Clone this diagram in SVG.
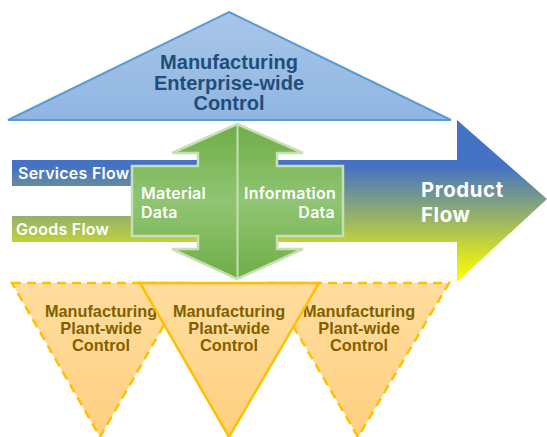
<svg xmlns="http://www.w3.org/2000/svg" width="547" height="437" viewBox="0 0 547 437">
<style>
text{font-family:"Liberation Sans",Arial,sans-serif;font-weight:700}
.top{font-size:20px;fill:#1f4e79;text-anchor:middle}
.plant{font-size:16.300px;fill:#7f6000;text-anchor:middle}
.w{fill:#fff;font-family:Inter,"Liberation Sans",sans-serif;font-weight:600}
.flow{font-size:16px;letter-spacing:.25px}
.data{font-size:16px;letter-spacing:.25px}
.prod{font-size:20.400px;font-weight:700;letter-spacing:.6px}
.tri{fill:url(#orange);stroke:#ffc000;stroke-width:2.5;stroke-linejoin:miter}
.dash{stroke-dasharray:9 6}
</style>
<defs>
<linearGradient id="blue" x1="0" y1="0" x2="0" y2="1"><stop offset="0" stop-color="#a9c6e8"/><stop offset="1" stop-color="#8fb6e2"/></linearGradient>
<linearGradient id="orange" x1="0" y1="0" x2="0" y2="1"><stop offset="0" stop-color="#ffdd9f"/><stop offset="1" stop-color="#ffd07f"/></linearGradient>
<linearGradient id="prod" gradientUnits="userSpaceOnUse" x1="0" y1="120" x2="0" y2="280"><stop offset="0" stop-color="#4472c4"/><stop offset="0.29" stop-color="#4472c4"/><stop offset="0.75" stop-color="#bccf40"/><stop offset="1" stop-color="#ffff00"/></linearGradient>
<linearGradient id="green" gradientUnits="userSpaceOnUse" x1="0" y1="124" x2="0" y2="279"><stop offset="0" stop-color="#70ad47"/><stop offset="0.5" stop-color="#90c573"/><stop offset="1" stop-color="#70ad47"/></linearGradient>
</defs>
<g id="enterprise">
<polygon points="229,12 451,120 8,120" fill="url(#blue)" stroke="#5b9bd5" stroke-width="2"/>
<text class="top" x="229" y="69">Manufacturing</text>
<text class="top" x="229" y="90">Enterprise-wide</text>
<text class="top" x="229" y="110">Control</text>
</g>
<g id="product-flow">
<path d="M12,160H457V120L547,199L457,282V242H12V216H140V186H12Z" fill="url(#prod)"/>
<text class="w flow" x="18" y="178.500">Services Flow</text>
<text class="w flow" x="16" y="234.500">Goods Flow</text>
<text class="w prod" x="421" y="196.500">Product</text>
<text class="w prod" x="421" y="221.500">Flow</text>
</g>
<g id="plant-left">
<polygon class="tri dash" points="12,283 188,283 100,437"/>
<text class="plant" x="101" y="316.500">Manufacturing</text>
<text class="plant" x="101" y="333.500">Plant-wide</text>
<text class="plant" x="101" y="350.500">Control</text>
</g>
<g id="plant-right">
<polygon class="tri dash" points="268,283 449,283 358,437"/>
<text class="plant" x="359" y="316.500">Manufacturing</text>
<text class="plant" x="359" y="333.500">Plant-wide</text>
<text class="plant" x="359" y="350.500">Control</text>
</g>
<g id="plant-middle">
<polygon class="tri" points="140,283 319,283 229,437"/>
<text class="plant" x="229" y="316.500">Manufacturing</text>
<text class="plant" x="229" y="333.500">Plant-wide</text>
<text class="plant" x="229" y="350.500">Control</text>
</g>
<g id="data-arrow">
<path d="M237,124L303,153H277V166H343V236H277V249H303L237,279L172,249H198V236H132V166H198V153H172Z" fill="url(#green)" stroke="#c5e0b4" stroke-width="2.500"/>
<path d="M237.500,124V279" stroke="#c5e0b4" stroke-width="2" fill="none"/>
<text class="w data" x="141" y="198.500">Material</text>
<text class="w data" x="141" y="217.500">Data</text>
<text class="w data" x="244" y="198.500">Information</text>
<text class="w data" x="335" y="217.500" text-anchor="end">Data</text>
</g>
</svg>
